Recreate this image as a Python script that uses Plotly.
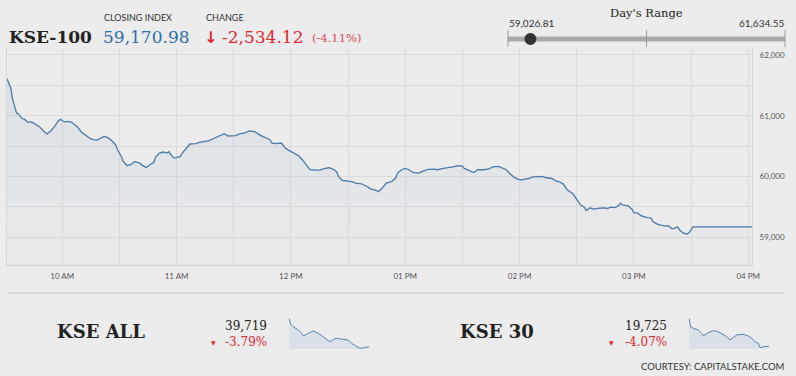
import plotly.graph_objects as go
import pandas as pd

W, H = 796, 376
DATE = "2020-03-09"

# ---------------- data ----------------
index_name = "KSE-100"
closing_index = 59170.98
change_points = -2534.12
change_pct = -4.11
day_low = 59026.81
day_high = 61634.55

main_times = [
    "09:31", "09:33", "09:34", "09:35", "09:36", "09:37", "09:39", "09:40", "09:42", "09:44",
    "09:47", "09:48", "09:50", "09:52", "09:54", "09:56", "09:58", "09:59",
    "10:01", "10:03", "10:05", "10:08", "10:10", "10:13", "10:15", "10:18", "10:20", "10:22",
    "10:24", "10:26", "10:28", "10:29", "10:31", "10:32", "10:34", "10:36", "10:38", "10:41",
    "10:42", "10:44", "10:46", "10:48", "10:49", "10:51", "10:53", "10:55", "10:56", "10:58", "10:59",
    "11:02", "11:03", "11:05", "11:07", "11:10", "11:12", "11:15", "11:17", "11:20", "11:23",
    "11:25", "11:27", "11:31", "11:33", "11:36", "11:38", "11:41", "11:44", "11:46", "11:49",
    "11:50", "11:52", "11:55", "11:57", "11:59",
    "12:01", "12:04", "12:06", "12:08", "12:10", "12:13", "12:15", "12:18", "12:20", "12:22",
    "12:24", "12:25", "12:27", "12:29", "12:32", "12:34", "12:37", "12:40", "12:42", "12:44",
    "12:46", "12:48", "12:50", "12:53", "12:55", "12:56", "12:58",
    "13:00", "13:02", "13:04", "13:07", "13:09", "13:12", "13:15", "13:17", "13:20", "13:23",
    "13:25", "13:28", "13:30", "13:31", "13:34", "13:36", "13:38", "13:41", "13:44", "13:46",
    "13:49", "13:51", "13:53", "13:55", "13:57", "13:59",
    "14:01", "14:03", "14:05", "14:07", "14:10", "14:12", "14:14", "14:17", "14:19", "14:21",
    "14:23", "14:25", "14:28", "14:30", "14:32", "14:34", "14:35", "14:37", "14:39", "14:42",
    "14:45", "14:46", "14:48", "14:50", "14:52", "14:53", "14:54", "14:57", "14:59",
    "15:00", "15:02", "15:04", "15:07", "15:09", "15:10", "15:12", "15:14", "15:17", "15:18",
    "15:20", "15:21", "15:23", "15:24", "15:26", "15:28", "15:29", "15:30", "15:31",
    "16:02",
]
main_values = [
    61607, 61458, 61266, 61155, 61046, 61030, 60952, 60947, 60891, 60898,
    60837, 60820, 60754, 60700, 60754, 60825, 60919, 60941,
    60898, 60908, 60891, 60815, 60733, 60660, 60617, 60594, 60622, 60660,
    60639, 60589, 60523, 60441, 60330, 60248, 60182, 60193, 60248, 60215,
    60182, 60149, 60193, 60231, 60320, 60386, 60403, 60386, 60408, 60320, 60304,
    60330, 60386, 60462, 60535, 60540, 60561, 60578, 60589, 60634, 60672,
    60705, 60667, 60672, 60700, 60716, 60749, 60738, 60677, 60650, 60606,
    60551, 60540, 60551, 60469, 60429,
    60396, 60342, 60276, 60193, 60111, 60106, 60106, 60132, 60144, 60122,
    60078, 60000, 59934, 59929, 59917, 59891, 59880, 59835, 59792, 59780,
    59752, 59809, 59891, 59917, 59974, 60056, 60111,
    60132, 60111, 60066, 60056, 60083, 60116, 60122, 60111, 60132, 60144,
    60160, 60177, 60171, 60132, 60094, 60066, 60111, 60111, 60127, 60160,
    60165, 60132, 60111, 60045, 59990, 59957,
    59941, 59962, 59967, 59995, 59995, 60000, 59979, 59967, 59929, 59913,
    59875, 59780, 59715, 59616, 59533, 59495, 59439, 59484, 59462, 59478,
    59484, 59472, 59495, 59488, 59517, 59561, 59533, 59517, 59462,
    59406, 59396, 59351, 59323, 59318, 59257, 59219, 59198, 59182, 59191,
    59142, 59142, 59170, 59120, 59066, 59054, 59076, 59120, 59170.98,
    59170.98,
]
assert len(main_times) == len(main_values)

y_ticks = [59000, 60000, 61000, 62000]

spark_times = ["09:31", "09:39", "09:52", "10:16", "10:33", "10:41", "11:05", "11:30", "11:54", "12:19",
               "12:35", "12:51", "13:08", "13:24", "13:56", "14:21", "14:37", "14:54", "15:10", "15:18",
               "15:34", "16:02"]

kse_all_value = "39,719"
kse_all_pct = "-3.79%"
kse_all_series = [41185, 40890, 40750, 40580, 40410, 40270, 40410, 40530, 40410, 40235,
                  40100, 39975, 40100, 40150, 40100, 40065, 39890, 39800, 39715, 39630,
                  39665, 39719]

kse30_value = "19,725"
kse30_pct = "-4.07%"
kse30_series = [20500, 20262, 20218, 20171, 20081, 20007, 20097, 20152, 20125, 20054,
                19988, 19897, 19971, 20034, 20053, 20007, 19944, 19851, 19807, 19687,
                19714, 19725]

# ---------------- helpers ----------------
def px(x):
    return x / W

def py(y):
    return 1 - y / H

def ts(lst):
    return pd.to_datetime([f"{DATE} {t}" for t in lst])

BG = "#ececec"
GRID = "#dcdcdc"
LINE = "#4a7aa8"
RED = "#e3262f"
BLUE = "#2f6fab"
DARK = "#222222"

fig = go.Figure()

main_x = ts(main_times)
fig.add_trace(go.Scatter(
    x=main_x, y=main_values, mode="lines",
    line=dict(color=LINE, width=1.3),
    fill="tozeroy",
    fillgradient=dict(type="vertical", start=58543, stop=61700,
                      colorscale=[[0, "rgba(70,120,170,0.02)"], [1, "rgba(70,120,170,0.10)"]]),
    hoverinfo="skip", showlegend=False, xaxis="x", yaxis="y",
))

fig.add_trace(go.Scatter(
    x=ts(spark_times), y=kse_all_series, mode="lines",
    line=dict(color="#5a84ad", width=1),
    fill="tozeroy", fillcolor="#d9e0e7",
    hoverinfo="skip", showlegend=False, xaxis="x2", yaxis="y2",
))
fig.add_trace(go.Scatter(
    x=ts(spark_times), y=kse30_series, mode="lines",
    line=dict(color="#5a84ad", width=1),
    fill="tozeroy", fillcolor="#d9e0e7",
    hoverinfo="skip", showlegend=False, xaxis="x3", yaxis="y3",
))

x_start = main_x[0]
x_end = main_x[-1]

fig.update_layout(
    width=W, height=H,
    autosize=False,
    margin=dict(l=0, r=0, t=0, b=0, pad=0, autoexpand=False),
    paper_bgcolor=BG, plot_bgcolor=BG,
    showlegend=False,
    xaxis=dict(
        domain=[px(7), px(752)],
        range=[x_start, x_end],
        type="date",
        tickformat="%I %p",
        dtick=3600000,
        tick0=f"{DATE} 10:00",
        showgrid=True, gridcolor=GRID, gridwidth=1,
        minor=dict(dtick=1800000, tick0=f"{DATE} 10:00", showgrid=True, gridcolor=GRID, gridwidth=1),
        showline=True, linecolor="#d0d0d0", linewidth=1,
        ticks="outside", ticklen=3, tickcolor="rgba(0,0,0,0)",
        zeroline=False, automargin=False,
        tickfont=dict(family="Lato", size=8, color="#555555"),
        fixedrange=True,
    ),
    yaxis=dict(
        domain=[py(265), py(48)],
        range=[58543, 62115],
        side="right",
        tickvals=y_ticks,
        tickformat=",d",
        showgrid=True, gridcolor=GRID, gridwidth=1,
        minor=dict(dtick=500, tick0=0, showgrid=True, gridcolor=GRID, gridwidth=1),
        showline=True, mirror=True, linecolor="#d6d6d6", linewidth=1,
        ticks="outside", ticklen=5, tickcolor="rgba(0,0,0,0)",
        zeroline=False, automargin=False,
        tickfont=dict(family="Lato", size=8, color="#555555"),
        fixedrange=True,
    ),
    xaxis2=dict(domain=[px(289), px(369)], visible=False, anchor="y2", automargin=False,
                range=[ts(spark_times)[0], ts(spark_times)[-1]]),
    yaxis2=dict(domain=[py(349), py(317)], visible=False, anchor="x2", automargin=False,
                range=[39600, 41252]),
    xaxis3=dict(domain=[px(689), px(769)], visible=False, anchor="y3", automargin=False,
                range=[ts(spark_times)[0], ts(spark_times)[-1]]),
    yaxis3=dict(domain=[py(349), py(317)], visible=False, anchor="x3", automargin=False,
                range=[19650, 20527]),
)

ann = []

def text(x, y, s, size, color, family="DejaVu Serif", xanchor="left", yanchor="middle"):
    ann.append(dict(x=px(x), y=py(y), xref="paper", yref="paper", text=s, showarrow=False,
                    xanchor=xanchor, yanchor=yanchor,
                    font=dict(family=family, size=size, color=color)))

# header
text(7, 37, f"<b>{index_name}</b>", 17, DARK)
text(102, 17, "CLOSING INDEX", 9, "#333333", family="Lato")
text(101, 37, f"{closing_index:,.2f}", 17, BLUE)
text(204, 17, "CHANGE", 9, "#333333", family="Lato")
text(202, 37, "<b>↓</b>", 16, RED, family="DejaVu Sans")
text(220, 37, f"{change_points:,.2f}", 17, RED)
text(310, 38, f"({change_pct:.2f}%)", 11.5, "#e04a55")

# day's range
text(646, 13, "Day's Range", 11.5, DARK, xanchor="center")
text(507, 23, f"{day_low:,.2f}", 10, "#333333", family="Lato")
text(786, 23, f"{day_high:,.2f}", 10, "#333333", family="Lato", xanchor="right")

# bottom section
text(55, 331, "<b>KSE ALL</b>", 18, DARK)
text(269, 326, kse_all_value, 12, DARK, xanchor="right")
text(269, 342, kse_all_pct, 12, RED, xanchor="right")
text(213, 342, "▼", 6, RED, family="DejaVu Sans", xanchor="center")

text(458, 331, "<b>KSE 30</b>", 18, DARK)
text(669, 326, kse30_value, 12, DARK, xanchor="right")
text(669, 342, kse30_pct, 12, RED, xanchor="right")
text(611, 342, "▼", 6, RED, family="DejaVu Sans", xanchor="center")

text(786, 366, "COURTESY: CAPITALSTAKE.COM", 9.5, "#333333", family="Lato", xanchor="right")

fig.update_layout(annotations=ann)

# shapes: range slider + separator
bar_l, bar_r, bar_y = 508, 785, 39
frac = (closing_index - day_low) / (day_high - day_low)
dot_x = bar_l + 8 + frac * (bar_r - bar_l - 16)
shapes = [
    dict(type="line", xref="paper", yref="paper", x0=px(bar_l), x1=px(bar_r), y0=py(bar_y), y1=py(bar_y),
         line=dict(color="#aaaaaa", width=5)),
    dict(type="line", xref="paper", yref="paper", x0=px(bar_l), x1=px(bar_l), y0=py(30), y1=py(47),
         line=dict(color="#9a9a9a", width=1)),
    dict(type="line", xref="paper", yref="paper", x0=px((bar_l + bar_r) / 2), x1=px((bar_l + bar_r) / 2),
         y0=py(30), y1=py(47), line=dict(color="#9a9a9a", width=1)),
    dict(type="line", xref="paper", yref="paper", x0=px(bar_r), x1=px(bar_r), y0=py(30), y1=py(47),
         line=dict(color="#9a9a9a", width=1)),
    dict(type="circle", xref="paper", yref="paper", x0=px(dot_x - 6), x1=px(dot_x + 6),
         y0=py(bar_y + 6), y1=py(bar_y - 6), fillcolor="#333333", line=dict(color="#333333", width=0)),
    dict(type="line", xref="paper", yref="paper", x0=px(7), x1=px(785), y0=py(293), y1=py(293),
         line=dict(color="#d4d4d4", width=1.5)),
]
fig.update_layout(shapes=shapes)

fig.write_html(
    "out.html",
    config={"displayModeBar": False, "responsive": False},
    post_script="document.body.style.margin='0';document.body.style.padding='0';"
                "document.body.style.overflow='hidden';"
                "document.documentElement.style.overflow='hidden';"
                "document.documentElement.style.background='#ececec';",
)
